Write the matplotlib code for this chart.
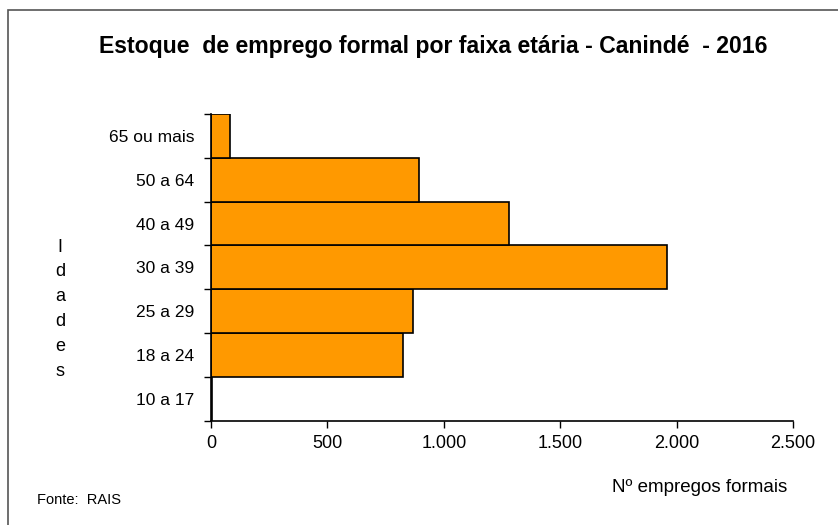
import numpy as np
import matplotlib.pyplot as plt
from matplotlib.patches import Rectangle

faixas = ['10 a 17', '18 a 24', '25 a 29', '30 a 39', '40 a 49', '50 a 64', '65 ou mais']
empregos = [6, 826, 869, 1960, 1282, 895, 82]
xticks = [0, 500, 1000, 1500, 2000, 2500]
xtick_labels = ['0', '500', '1.000', '1.500', '2.000', '2.500']

plt.rcParams['font.family'] = ['Liberation Sans', 'DejaVu Sans']

fig = plt.figure(figsize=(8.38, 5.25), dpi=100)
ax = fig.add_axes([211 / 838, 1 - 420.7 / 525, 582 / 838, (420.7 - 114) / 525])

# moldura cinza (so topo e esquerda visiveis)
fig.patches.append(Rectangle((8 / 838, -0.1), 1.2, 1 - 10 / 525 + 0.1,
                             transform=fig.transFigure, fill=False,
                             edgecolor='#555555', lw=1.2))

y = np.arange(len(faixas))
ax.barh(y, empregos, height=1.0, color='#FF9900', edgecolor='black', linewidth=1.2)

ax.set_xlim(0, 2500)
ax.set_ylim(-0.5, len(faixas) - 0.5)
ax.set_xticks(xticks)
ax.set_xticklabels(xtick_labels, fontsize=13)
ax.tick_params(axis='x', direction='out', length=5, width=1, pad=5)

# ticks nas divisas, rotulos no centro
ax.set_yticks(np.arange(len(faixas) + 1) - 0.5)
ax.set_yticklabels([])
ax.tick_params(axis='y', which='major', direction='out', length=5, width=1)
ax.set_yticks(y, minor=True)
ax.set_yticklabels(faixas, minor=True, fontsize=12.5)
ax.tick_params(axis='y', which='minor', length=0, pad=12)

for s in ['top', 'right']:
    ax.spines[s].set_visible(False)
ax.spines['left'].set_linewidth(1.2)
ax.spines['bottom'].set_linewidth(1.2)

fig.text(433 / 838, 1 - 47 / 525, 'Estoque  de emprego formal por faixa etária - Canindé  - 2016',
         ha='center', va='center', fontsize=16.6, fontweight='bold')
fig.text(700 / 838, 1 - 487 / 525, 'Nº empregos formais', ha='center', va='center', fontsize=13.5)
fig.text(37 / 838, 1 - 500 / 525, 'Fonte:  RAIS', ha='left', va='center', fontsize=10.5)
fig.text(60 / 838, 1 - 309 / 525, 'I\nd\na\nd\ne\ns', ha='center', va='center',
         fontsize=13, linespacing=1.6)

fig.savefig('out.png', dpi=100)
